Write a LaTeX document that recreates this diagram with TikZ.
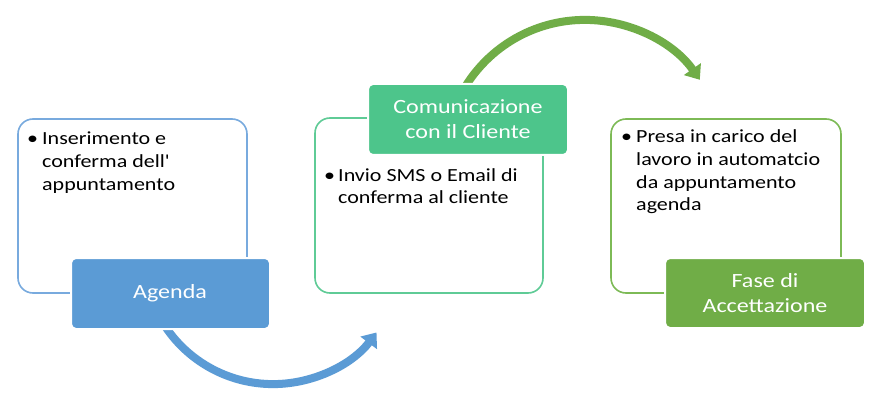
\documentclass[tikz,border=0pt]{standalone}
\usepackage{fontspec}
\setmainfont{Carlito}[Ligatures=TeXOff, FakeStretch=1.19]
\usetikzlibrary{arrows.meta}
\definecolor{cblue}{RGB}{91,155,213}
\definecolor{cteal}{RGB}{77,197,139}
\definecolor{cgreen}{RGB}{112,173,71}
\definecolor{oblue}{RGB}{120,170,222}
\definecolor{oteal}{RGB}{95,203,150}
\definecolor{ogreen}{RGB}{125,186,86}
\begin{document}
\begin{tikzpicture}[x=1pt,y=-1pt,
  outline/.style={line width=1.6pt, rounded corners=15pt},
  titlebox/.style={draw=white, line width=2pt, rounded corners=5pt},
  titletext/.style={text=white, align=center, font=\fontsize{20.2}{25}\selectfont, inner sep=0pt},
  bodytext/.style={align=left, anchor=base west, font=\fontsize{18.5}{22.7}\selectfont, inner sep=0pt},
  bullet/.style={anchor=base west, font=\fontsize{18.5}{22.7}\selectfont, inner sep=0pt},
  flow/.style={line width=8pt, -{Triangle[width=20pt,length=13pt]}}
]
\useasboundingbox (0,0) rectangle (888,406);
\fill[white] (0,0) rectangle (888,406);

% arrows (behind boxes)
\coordinate (a1s) at ([shift={(146:129.6)}]273,254.5);
\draw[flow, draw=cblue] (a1s) arc[start angle=146, end angle=37, radius=129.6];
\coordinate (a2s) at ([shift={(212:140.4)}]584.8,160.3);
\draw[flow, draw=cgreen] (a2s) arc[start angle=212, end angle=325, radius=140.4];

% outlines
\draw[outline, draw=oblue] (18,119) rectangle (247,293);
\draw[outline, draw=oteal] (315,118) rectangle (543,293);
\draw[outline, draw=ogreen] (611,119) rectangle (841,293);

% title boxes
\filldraw[titlebox, fill=cblue] (71,258) rectangle (270,329);
\filldraw[titlebox, fill=cteal] (368,84) rectangle (568,155);
\filldraw[titlebox, fill=cgreen] (665,258) rectangle (865,328);

\node[titletext] (t1) at (170,293.5) {Agenda};
\node[titletext] (t2) at (468,119.5) {Comunicazione\\con il Cliente};
\node[titletext] (t3) at (765,293) {Fase di\\Accettazione};

% body texts (anchored at the baseline of the last line)
\node[bullet] (b1) at (27,145) {•};
\node[bodytext] (x1) at (42,190) {Inserimento e\\conferma dell'\\appuntamento};
\node[bullet] (b2) at (324,181.5) {•};
\node[bodytext] (x2) at (338,204) {Invio SMS o Email di\\conferma al cliente};
\node[bullet] (b3) at (621,143) {•};
\node[bodytext] (x3) at (636,211) {Presa in carico del\\lavoro in automatcio\\da appuntamento\\agenda};
\end{tikzpicture}
\end{document}
